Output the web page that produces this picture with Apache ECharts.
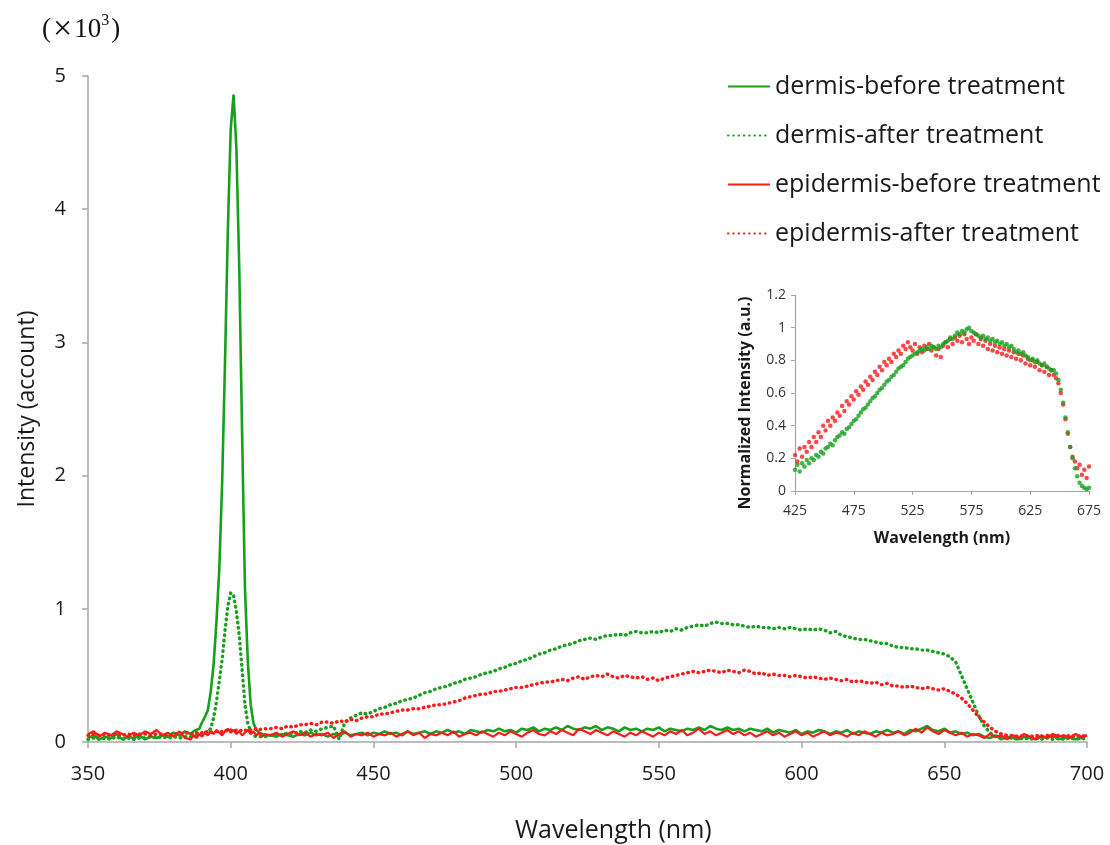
<!DOCTYPE html>
<html>
<head>
<meta charset="utf-8">
<script src="https://cdn.jsdelivr.net/npm/echarts@6/dist/echarts.min.js"></script>
<style>
html,body{margin:0;padding:0;background:#fff;}
#chart{width:1110px;height:845px;}
</style>
</head>
<body>
<div id="chart"></div>
<script>
function range(a, b, s) { const r = []; for (let v = a; v <= b + 1e-9; v += s) r.push(v); return r; }

// wavelength categories (nm)
const wlMain = [].concat(range(350, 386, 2), range(387, 412, 1), range(414, 700, 2));
const wlInset = range(425, 675, 2);

// tick labels
const mainXTicks = [350, 400, 450, 500, 550, 600, 650, 700];
const mainYTicks = [0, 1, 2, 3, 4, 5];
const insetXTicks = [425, 475, 525, 575, 625, 675];
const insetYTicks = [0, 0.2, 0.4, 0.6, 0.8, 1, 1.2];

const seriesNames = ['dermis-before treatment', 'dermis-after treatment', 'epidermis-before treatment', 'epidermis-after treatment'];

// intensity (x10^3)
const dermisBefore = [
  0.03,0.05,0.02,0.04,0.03,0.06,0.02,0.04,0.03,0.05,0.02,0.04,0.03,0.05,0.04,0.07,0.05,0.08,0.06,
  0.08,0.09,0.10,0.15,0.19,0.24,0.38,0.58,0.90,1.30,1.95,2.85,3.85,4.60,4.86,4.45,3.55,2.30,1.15,0.60,0.28,0.14,0.09,0.07,0.06,0.05,
  0.05,0.04,0.06,0.05,0.04,0.06,0.05,0.07,0.05,0.06,
  0.04,0.06,0.05,0.07,0.05,0.06,0.07,0.05,0.07,0.06,
  0.08,0.06,0.07,0.05,0.08,0.06,0.07,0.08,0.06,0.08,
  0.07,0.09,0.07,0.08,0.06,0.09,0.08,0.07,0.09,0.08,
  0.10,0.08,0.09,0.07,0.10,0.09,0.11,0.08,0.10,0.09,
  0.11,0.09,0.12,0.10,0.09,0.11,0.10,0.12,0.09,0.11,
  0.10,0.08,0.11,0.09,0.10,0.08,0.10,0.09,0.11,0.08,
  0.10,0.09,0.08,0.10,0.09,0.11,0.09,0.12,0.10,0.09,
  0.11,0.09,0.10,0.08,0.10,0.09,0.08,0.10,0.07,0.09,
  0.08,0.07,0.09,0.06,0.08,0.07,0.09,0.08,0.06,0.08,
  0.07,0.09,0.06,0.08,0.07,0.06,0.08,0.07,0.09,0.07,
  0.08,0.06,0.09,0.08,0.10,0.12,0.09,0.08,0.10,0.07,
  0.08,0.06,0.07,0.05,0.06,0.04,0.03,0.05,0.02,0.04,
  0.03,0.02,0.04,0.03,0.02,0.04,0.03,0.05,0.02,0.03,
  0.04,0.02,0.03,0.05
];
const dermisAfter = [
  0.02,0.03,0.02,0.03,0.02,0.04,0.02,0.03,0.02,0.03,0.03,0.04,0.03,0.04,0.03,0.04,0.03,0.04,0.04,
  0.04,0.05,0.05,0.06,0.07,0.08,0.10,0.18,0.30,0.46,0.62,0.84,1.02,1.12,1.10,0.98,0.80,0.54,0.28,0.14,0.08,0.05,0.04,0.04,0.04,0.04,
  0.05,0.06,0.05,0.07,0.06,0.08,0.07,0.09,0.08,0.10,
  0.11,0.12,0.02,0.15,0.18,0.20,0.22,0.21,0.23,0.25,
  0.26,0.28,0.29,0.31,0.32,0.33,0.35,0.37,0.38,0.40,
  0.41,0.42,0.44,0.45,0.47,0.48,0.49,0.51,0.52,0.53,
  0.55,0.56,0.58,0.59,0.61,0.62,0.64,0.66,0.67,0.69,
  0.70,0.72,0.73,0.74,0.76,0.77,0.78,0.77,0.79,0.80,
  0.80,0.81,0.80,0.82,0.83,0.82,0.82,0.83,0.82,0.84,
  0.83,0.85,0.84,0.86,0.87,0.88,0.87,0.89,0.90,0.89,
  0.89,0.88,0.88,0.87,0.86,0.87,0.86,0.86,0.85,0.86,
  0.85,0.86,0.85,0.84,0.85,0.84,0.85,0.84,0.82,0.83,
  0.80,0.79,0.78,0.77,0.77,0.76,0.75,0.74,0.74,0.72,
  0.71,0.71,0.70,0.70,0.69,0.69,0.68,0.67,0.66,0.64,
  0.60,0.50,0.40,0.30,0.20,0.12,0.07,0.04,0.03,0.03,
  0.03,0.02,0.03,0.02,0.03,0.02,0.03,0.02,0.03,0.02,
  0.03,0.02,0.03,0.02
];
const epidermisBefore = [
  0.06,0.08,0.04,0.07,0.05,0.08,0.06,0.04,0.07,0.05,0.08,0.06,0.09,0.05,0.07,0.04,0.08,0.03,0.02,
  0.05,0.03,0.06,0.04,0.07,0.05,0.08,0.06,0.09,0.07,0.05,0.08,0.10,0.07,0.09,0.06,0.08,0.05,0.07,0.09,0.06,0.08,0.05,0.07,0.04,0.06,
  0.05,0.07,0.04,0.06,0.08,0.05,0.07,0.04,0.06,0.05,
  0.07,0.03,0.06,0.08,0.04,0.06,0.05,0.07,0.04,0.06,
  0.05,0.07,0.04,0.06,0.08,0.05,0.07,0.03,0.06,0.05,
  0.07,0.05,0.08,0.04,0.06,0.07,0.05,0.08,0.06,0.04,
  0.07,0.05,0.08,0.06,0.04,0.07,0.09,0.06,0.05,0.08,
  0.06,0.09,0.07,0.05,0.10,0.08,0.06,0.09,0.07,0.05,
  0.08,0.06,0.04,0.07,0.05,0.08,0.06,0.04,0.07,0.05,
  0.08,0.06,0.09,0.05,0.07,0.10,0.06,0.08,0.05,0.07,
  0.09,0.06,0.08,0.05,0.07,0.04,0.06,0.08,0.05,0.07,
  0.04,0.06,0.08,0.05,0.07,0.04,0.06,0.08,0.05,0.07,
  0.06,0.04,0.07,0.05,0.08,0.06,0.04,0.07,0.05,0.06,
  0.08,0.05,0.07,0.10,0.07,0.11,0.08,0.06,0.09,0.07,
  0.05,0.07,0.04,0.06,0.05,0.03,0.06,0.04,0.05,0.02,
  0.05,0.03,0.06,0.04,0.02,0.05,0.03,0.06,0.04,0.05,
  0.03,0.06,0.04,0.05
];
const epidermisAfter = [
  0.05,0.06,0.05,0.06,0.05,0.06,0.05,0.06,0.05,0.06,0.06,0.05,0.06,0.06,0.05,0.06,0.06,0.07,0.06,
  0.06,0.07,0.06,0.07,0.07,0.08,0.07,0.08,0.08,0.07,0.08,0.09,0.08,0.09,0.08,0.09,0.08,0.09,0.09,0.08,0.09,0.09,0.10,0.09,0.10,0.10,
  0.10,0.11,0.10,0.12,0.11,0.13,0.13,0.14,0.13,0.15,
  0.15,0.14,0.16,0.15,0.17,0.16,0.18,0.19,0.19,0.21,
  0.21,0.22,0.23,0.24,0.24,0.25,0.25,0.26,0.27,0.28,
  0.28,0.29,0.30,0.31,0.33,0.34,0.35,0.36,0.36,0.38,
  0.38,0.39,0.40,0.41,0.41,0.42,0.43,0.44,0.45,0.45,
  0.46,0.47,0.46,0.48,0.49,0.47,0.49,0.50,0.49,0.51,
  0.49,0.48,0.50,0.49,0.48,0.49,0.47,0.48,0.46,0.48,
  0.49,0.50,0.51,0.52,0.53,0.52,0.53,0.54,0.53,0.52,
  0.54,0.53,0.52,0.54,0.53,0.51,0.52,0.50,0.51,0.50,
  0.50,0.49,0.50,0.49,0.48,0.49,0.48,0.47,0.48,0.47,
  0.46,0.47,0.45,0.46,0.45,0.44,0.45,0.43,0.44,0.42,
  0.42,0.41,0.42,0.41,0.40,0.41,0.40,0.39,0.40,0.38,
  0.36,0.33,0.29,0.24,0.19,0.15,0.11,0.08,0.06,0.05,
  0.05,0.04,0.05,0.04,0.05,0.04,0.05,0.04,0.05,0.04,
  0.05,0.04,0.05,0.04
];

// inset: normalized intensity (a.u.)
const insetDermis = [
  0.13,0.16,0.12,0.17,0.15,0.19,0.17,0.20,0.19,0.22,
  0.21,0.24,0.23,0.26,0.27,0.29,0.28,0.31,0.33,0.34,
  0.36,0.35,0.38,0.39,0.41,0.43,0.44,0.46,0.48,0.50,
  0.51,0.53,0.55,0.57,0.58,0.60,0.62,0.63,0.65,0.67,
  0.68,0.70,0.71,0.73,0.75,0.76,0.77,0.79,0.81,0.82,
  0.83,0.84,0.85,0.86,0.87,0.86,0.88,0.87,0.89,0.88,
  0.87,0.89,0.88,0.90,0.91,0.92,0.94,0.93,0.95,0.97,
  0.96,0.98,0.97,0.99,1.00,0.98,0.97,0.96,0.95,0.94,
  0.95,0.93,0.94,0.92,0.93,0.91,0.92,0.90,0.91,0.89,
  0.90,0.88,0.89,0.87,0.85,0.86,0.84,0.85,0.83,0.82,
  0.80,0.81,0.79,0.80,0.78,0.77,0.78,0.76,0.75,0.74,
  0.74,0.72,0.68,0.62,0.54,0.45,0.36,0.27,0.20,0.14,
  0.09,0.05,0.03,0.02,0.01,0.02
];
const insetEpidermis = [
  0.22,0.18,0.26,0.21,0.27,0.24,0.30,0.27,0.33,0.30,
  0.36,0.33,0.40,0.37,0.43,0.40,0.45,0.43,0.48,0.46,
  0.52,0.49,0.55,0.53,0.58,0.56,0.61,0.59,0.64,0.62,
  0.67,0.65,0.70,0.68,0.73,0.71,0.76,0.74,0.79,0.77,
  0.81,0.79,0.84,0.82,0.86,0.84,0.89,0.87,0.91,0.88,
  0.86,0.90,0.84,0.88,0.85,0.89,0.87,0.90,0.86,0.88,
  0.83,0.87,0.82,0.89,0.91,0.88,0.93,0.90,0.94,0.92,
  0.95,0.91,0.96,0.93,0.90,0.94,0.92,0.96,0.90,0.93,
  0.89,0.92,0.87,0.90,0.86,0.89,0.85,0.88,0.84,0.87,
  0.83,0.86,0.82,0.85,0.81,0.84,0.80,0.83,0.78,0.81,
  0.77,0.80,0.76,0.79,0.74,0.77,0.73,0.76,0.71,0.74,
  0.71,0.69,0.66,0.60,0.53,0.44,0.35,0.27,0.21,0.18,
  0.14,0.16,0.10,0.13,0.08,0.15
];

const GREEN = '#17a01d';
const RED = '#ff1a1a';
const AXIS = '#a6a6a6';
const FONT = '"Open Sans", Lato, sans-serif';
const INK = '#1a1a1a';

const pair = (xs, ys) => xs.map((x, i) => [x, ys[i]]);

const chart = echarts.init(document.getElementById('chart'), null, { renderer: 'canvas' });

const mainLine = (name, ys, color, dotted, width) => ({
  name, type: 'line', xAxisIndex: 0, yAxisIndex: 0,
  data: pair(wlMain, ys), symbol: 'none', showSymbol: false,
  lineStyle: dotted ? { color, width: 3.4, type: [0.5, 4.8], cap: 'round' } : { color, width },
  itemStyle: { color }, emphasis: { disabled: true }, silent: true
});

chart.setOption({
  animation: false,
  backgroundColor: '#fff',
  textStyle: { fontFamily: FONT },
  graphic: [{
    type: 'text', left: 42, top: 13,
    style: {
      text: '{p|(}{x|×}{p|10}{s|3}{p|)}',
      rich: {
        p: { font: '27px "Liberation Serif", serif', fill: '#111' },
        x: { font: '34px "Liberation Serif", serif', fill: '#111', padding: [0, 2, 0, 2] },
        s: { font: '16px "Liberation Serif", serif', fill: '#111', verticalAlign: 'top', padding: [0, 2, 9, 0] }
      }
    }
  }, {
    type: 'text', left: 515, top: 818,
    style: { text: 'Wavelength (nm)', font: '25px "Open Sans", sans-serif', fill: INK }
  }],
  legend: {
    data: seriesNames,
    orient: 'vertical', left: 722, top: 69,
    itemWidth: 42, itemHeight: 14, itemGap: 24,
    itemStyle: { opacity: 0 },
    textStyle: { fontSize: 25, color: INK, fontFamily: FONT },
    selectedMode: false
  },
  grid: [
    { left: 88, right: 23, top: 76, bottom: 103 },
    { left: 795, right: 21, top: 295, bottom: 354 }
  ],
  xAxis: [{
    type: 'value', gridIndex: 0, min: 350, max: 700, interval: 50,
    axisLine: { lineStyle: { color: AXIS, width: 1.5 } },
    axisTick: { show: true, inside: false, length: 6, lineStyle: { color: AXIS, width: 1.5 }, customValues: mainXTicks },
    axisLabel: { fontSize: 20, color: INK, margin: 22, customValues: mainXTicks },
    splitLine: { show: false }
  }, {
    type: 'value', gridIndex: 1, min: 425, max: 675,
    name: 'Wavelength (nm)', nameLocation: 'middle', nameGap: 39,
    nameTextStyle: { fontSize: 16, fontWeight: 'bold', color: INK },
    axisLine: { lineStyle: { color: AXIS, width: 1.2 } },
    axisTick: { show: true, length: 4, lineStyle: { color: AXIS }, customValues: insetXTicks },
    axisLabel: { fontSize: 14, color: '#333', margin: 13, customValues: insetXTicks },
    splitLine: { show: false }
  }],
  yAxis: [{
    type: 'value', gridIndex: 0, min: 0, max: 5, interval: 1,
    name: 'Intensity (account)', nameLocation: 'middle', nameGap: 49, nameRotate: 90,
    nameTextStyle: { fontSize: 23, color: INK },
    axisLine: { show: true, lineStyle: { color: AXIS, width: 1.5 } },
    axisTick: { show: true, length: 6, lineStyle: { color: AXIS, width: 1.5 }, customValues: mainYTicks },
    axisLabel: { fontSize: 20, color: INK, margin: 22, customValues: mainYTicks },
    splitLine: { show: false }
  }, {
    type: 'value', gridIndex: 1, min: 0, max: 1.2, interval: 0.2,
    name: 'Normalized Intensity (a.u.)', nameLocation: 'middle', nameGap: 42, nameRotate: 90,
    nameTextStyle: { fontSize: 16, fontWeight: 'bold', color: INK, padding: [0, 20, 0, 0] },
    axisLine: { show: true, lineStyle: { color: AXIS, width: 1.2 } },
    axisTick: { show: true, length: 4, lineStyle: { color: AXIS }, customValues: insetYTicks },
    axisLabel: { fontSize: 14, color: '#333', margin: 9, customValues: insetYTicks },
    splitLine: { show: false }
  }],
  series: [
    mainLine(seriesNames[0], dermisBefore, GREEN, false, 2.6),
    mainLine(seriesNames[1], dermisAfter, GREEN, true),
    mainLine(seriesNames[2], epidermisBefore, RED, false, 2.2),
    mainLine(seriesNames[3], epidermisAfter, RED, true),
    {
      type: 'scatter', xAxisIndex: 1, yAxisIndex: 1, data: pair(wlInset, insetEpidermis),
      symbolSize: 4.5, itemStyle: { color: RED }, silent: true
    },
    {
      type: 'scatter', xAxisIndex: 1, yAxisIndex: 1, data: pair(wlInset, insetDermis),
      symbolSize: 4.5, itemStyle: { color: GREEN }, silent: true
    }
  ]
});
</script>
</body>
</html>
